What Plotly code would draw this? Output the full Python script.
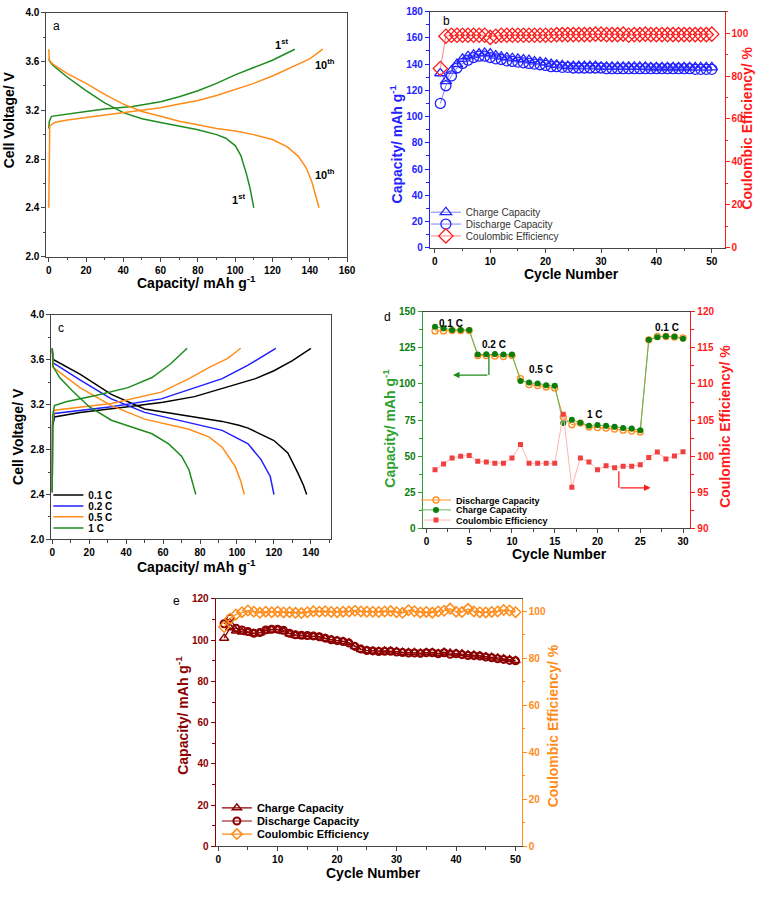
import plotly.graph_objects as go

W, H = 772, 900
FONT = "Liberation Sans, Arial, sans-serif"

# ---------------- Panel a data ----------------
a_1st_chg_cap = [0, 0.3, 1.5, 10, 20, 30, 45, 60, 70, 80, 90, 100, 110, 120, 132]
a_1st_chg_v = [3.05, 3.11, 3.15, 3.17, 3.19, 3.21, 3.23, 3.27, 3.31, 3.36, 3.42, 3.49, 3.55, 3.61, 3.70]
a_1st_dis_cap = [0, 0.5, 2, 10, 20, 30, 40, 50, 60, 70, 80, 90, 95, 100, 103, 106, 108, 110]
a_1st_dis_v = [3.62, 3.60, 3.57, 3.47, 3.36, 3.26, 3.18, 3.13, 3.10, 3.07, 3.04, 3.00, 2.97, 2.91, 2.83, 2.68, 2.56, 2.40]
a_10th_chg_cap = [0, 0.1, 0.5, 3, 10, 20, 30, 40, 50, 60, 70, 80, 90, 100, 110, 120, 130, 140, 147]
a_10th_chg_v = [2.40, 3.00, 3.07, 3.10, 3.12, 3.14, 3.16, 3.18, 3.20, 3.22, 3.25, 3.28, 3.32, 3.37, 3.42, 3.48, 3.55, 3.62, 3.70]
a_10th_dis_cap = [0, 0.3, 2, 10, 20, 30, 40, 50, 60, 70, 80, 90, 100, 110, 120, 128, 134, 138, 141, 143, 145]
a_10th_dis_v = [3.70, 3.61, 3.58, 3.50, 3.42, 3.33, 3.25, 3.19, 3.15, 3.11, 3.08, 3.05, 3.03, 3.00, 2.96, 2.90, 2.82, 2.73, 2.62, 2.52, 2.40]

# ---------------- Panel b data ----------------
b_cycles = list(range(1, 51))
b_charge = [133, 127, 135, 140, 144, 146, 147, 148, 148.5, 148, 146.5, 145.5, 145, 144.5, 144, 143.5, 143, 142,
            141.5, 141, 140, 139.5, 139, 138.5, 138.5, 138.5, 138.5, 138.5, 138.5, 138, 138, 138, 138, 138, 138,
            138, 138, 138, 137.5, 137.5, 137.5, 137.5, 137.5, 137.5, 137.5, 137.5, 137.5, 137.5, 137.5, 137.5]
b_discharge = [110, 123.5, 131, 137, 140.5, 143, 145, 146, 146, 145, 144, 143.5, 142.5, 142, 141.5, 141, 140.5,
               140, 139.5, 139, 138, 138, 137.5, 137.5, 137, 137, 137, 137, 137, 137, 136.5, 136.5, 136.5, 136.5,
               136.5, 136.5, 136.5, 136.5, 136.5, 136.5, 136.5, 136.5, 136.5, 136.5, 136.5, 136.5, 136, 136, 136, 136]
b_ce = [83.5, 98.5, 99, 99, 99, 99, 99, 99, 99, 98, 98.5, 99, 99, 99, 99, 99, 99, 99, 99, 99, 99, 99.3, 99.3,
        99.3, 99.3, 99.3, 99.3, 99.3, 99.5, 99.5, 99.3, 99.3, 99.3, 99.5, 99, 99.3, 99.3, 99.5, 99.3, 99.3, 99.3,
        99.3, 99.3, 99.3, 99.3, 99.3, 99.3, 99.3, 99.3, 99.5]

# ---------------- Panel c data ----------------
c_labels = ["0.1 C", "0.2 C", "0.5 C", "1 C"]
c_chg_cap = [
    [0, 0.2, 1.2, 15, 41, 60, 77, 92, 110, 120, 130, 140],
    [0, 0.2, 1.2, 32, 59, 74, 92, 106, 121],
    [0, 0.2, 1.2, 32, 59, 74, 85, 95, 102],
    [0, 0.2, 1.2, 7.5, 23.5, 41, 54, 64, 73],
]
c_chg_v = [
    [2.42, 3.00, 3.09, 3.13, 3.18, 3.22, 3.27, 3.34, 3.43, 3.50, 3.59, 3.70],
    [2.42, 3.02, 3.12, 3.18, 3.25, 3.33, 3.43, 3.55, 3.70],
    [2.42, 3.05, 3.15, 3.21, 3.31, 3.43, 3.53, 3.61, 3.70],
    [2.42, 3.10, 3.19, 3.225, 3.28, 3.35, 3.44, 3.56, 3.70],
]
c_dis_cap = [
    [0, 0.5, 15, 32, 50, 77, 92, 101, 106, 120, 127.5, 133, 136, 137.7],
    [0, 0.5, 15, 32, 50, 77, 92, 106, 113, 118, 120],
    [0, 0.5, 15, 32, 50, 74, 85, 92, 99, 102, 104],
    [0, 0.4, 4, 11, 20, 32, 43, 54, 63, 70, 74, 75.5, 77.7],
]
c_dis_v = [
    [3.70, 3.60, 3.47, 3.29, 3.16, 3.09, 3.05, 3.015, 2.99, 2.88, 2.77, 2.59, 2.48, 2.40],
    [3.70, 3.57, 3.42, 3.25, 3.13, 3.03, 2.97, 2.85, 2.71, 2.56, 2.40],
    [3.70, 3.53, 3.35, 3.19, 3.07, 2.98, 2.91, 2.82, 2.65, 2.52, 2.40],
    [3.70, 3.54, 3.44, 3.32, 3.18, 3.06, 3.00, 2.94, 2.85, 2.74, 2.62, 2.53, 2.40],
]
c_colors = ["#000000", "#1f1fff", "#ff8c1a", "#1e8c1e"]

# ---------------- Panel d data ----------------
d_cycles = list(range(1, 31))
d_discharge = [136.8, 136.8, 137, 137, 137, 119.7, 119.7, 119.4, 119, 119.7, 103.7, 99.6, 98.9, 98, 97.3,
               77, 71.8, 72.9, 70.2, 69.8, 69.5, 68.8, 68, 67.4, 66.8, 130.6, 133, 133, 132.6, 132]
d_charge = [139.7, 138.6, 137.5, 137.5, 137.5, 120.4, 120.6, 120.8, 120.5, 120.4, 102.1, 101, 100.3, 99.2, 98.7,
            72.9, 75.2, 73.2, 71.1, 71.6, 71.1, 70.4, 69.5, 69.1, 67.9, 130.6, 132.4, 133.1, 132.8, 131.3]
d_ce = [98.1, 98.9, 99.75, 99.98, 100.1, 99.3, 99.2, 99.0, 99.0, 99.75, 101.6, 99.0, 99.0, 99.0, 99.0,
        105.8, 95.7, 99.75, 99.2, 98.1, 98.66, 98.4, 98.6, 98.6, 98.8, 99.8, 100.57, 99.6, 100.0, 100.6]
d_rate_labels = ["0.1 C", "0.2 C", "0.5 C", "1 C", "0.1 C"]
d_rate_x = [2.9, 7.9, 13.4, 19.75, 28.1]
d_rate_y = [142, 127.6, 110.1, 79.1, 139]

# ---------------- Panel e data ----------------
e_cycles = list(range(1, 51))
e_charge = [101, 106, 104.5, 104, 103.8, 103.3, 103.5, 104.5, 105, 105, 104.2, 103, 102.3, 102, 101.8, 101.8,
            101.5, 100.8, 100.2, 99.8, 99.4, 98.8, 97, 95.5, 95, 94.8, 94.7, 94.8, 94.8, 94.5, 94.2, 94, 94,
            93.8, 94, 94.1, 93.6, 94.2, 93.8, 93.6, 93.4, 93, 92.8, 92.5, 92, 91.8, 91.4, 91, 90.6, 90.2]
e_discharge = [108, 110.6, 105.8, 105, 104.2, 103.4, 103.7, 105, 105.3, 105.3, 104.8, 103.4, 102.6, 102.4,
               102.3, 102.1, 101.7, 101, 100.2, 99.8, 99.4, 98.6, 97, 95.7, 95, 94.8, 94.5, 94.6, 94.6, 94.3,
               94, 93.8, 93.8, 93.6, 93.9, 93.9, 93.4, 93.9, 93.2, 93.4, 93, 92.6, 92.5, 92.3, 91.8, 91.5, 91,
               90.7, 90.2, 90]
e_ce = [93.3, 96.8, 98.6, 99.6, 100.3, 99.8, 99.3, 99.8, 99.6, 99.8, 99.5, 99.6, 99.3, 99.2, 99.6, 100, 99.8,
        100, 99.7, 99.6, 99.8, 99.9, 100.2, 99.9, 99.8, 99.8, 99.7, 99.9, 100.1, 99.6, 99.3, 100.4, 100, 99.5,
        99.7, 99.4, 99.9, 100.2, 101.1, 99.8, 99.7, 101, 99.9, 99.6, 99.5, 99.7, 99.9, 100.5, 100.3, 99.6]

# ---------------- colours ----------------
GREEN = "#1e8c1e"
ORANGE = "#ff8c1a"
BLUE = "#2222ff"
RED = "#ff1a1a"
DGREEN = "#0a7d0a"
LGREEN = "#2ea02e"
DRED = "#8b0000"
AXGRAY = "#444444"


def px(x):
    return x / W


def py(y):
    return 1 - y / H


def bold(size, color="#000000"):
    return dict(family=FONT, size=size, color=color, weight="bold")


def mk_axis(dom, rng, dtick, minor, color="#000000", linecolor=AXGRAY, tickformat=None, mirror=False,
            anchor=None, side=None, overlaying=None, tick0=0):
    ax = dict(range=rng, dtick=dtick, tick0=tick0, ticks="outside", ticklen=4, tickwidth=1,
              tickcolor=linecolor, showline=True, linecolor=linecolor, linewidth=1, mirror=mirror,
              showgrid=False, zeroline=False, tickfont=bold(10, color),
              minor=dict(dtick=minor, ticks="outside", ticklen=2.5, tickcolor=linecolor, showgrid=False))
    if dom is not None:
        ax["domain"] = dom
    if tickformat:
        ax["tickformat"] = tickformat
    if anchor:
        ax["anchor"] = anchor
    if side:
        ax["side"] = side
    if overlaying:
        ax["overlaying"] = overlaying
    return ax


fig = go.Figure()

# ---------- Panel a ----------
for cx, vy, col in [(a_1st_chg_cap, a_1st_chg_v, GREEN), (a_1st_dis_cap, a_1st_dis_v, GREEN),
                    (a_10th_chg_cap, a_10th_chg_v, ORANGE), (a_10th_dis_cap, a_10th_dis_v, ORANGE)]:
    fig.add_trace(go.Scatter(x=cx, y=vy, mode="lines", line=dict(color=col, width=1.5),
                             xaxis="x", yaxis="y", showlegend=False))

# ---------- Panel b ----------
fig.add_trace(go.Scatter(x=b_cycles, y=b_charge, name="Charge Capacity", mode="lines+markers",
                         line=dict(color="#8080ff", width=1),
                         marker=dict(symbol="triangle-up-open", size=10, color=BLUE, line=dict(width=1.3, color=BLUE)),
                         xaxis="x2", yaxis="y2", legend="legend"))
fig.add_trace(go.Scatter(x=b_cycles, y=b_discharge, name="Discharge Capacity", mode="lines+markers",
                         line=dict(color="#8080ff", width=1),
                         marker=dict(symbol="circle-open", size=10, color=BLUE, line=dict(width=1.3, color=BLUE)),
                         xaxis="x2", yaxis="y2", legend="legend2"))
fig.add_trace(go.Scatter(x=b_cycles, y=b_ce, name="Coulombic Efficiency", mode="lines+markers",
                         line=dict(color="#ff8080", width=1),
                         marker=dict(symbol="diamond-open", size=11, color=RED, line=dict(width=1.3, color=RED)),
                         xaxis="x2", yaxis="y3", legend="legend3"))

# ---------- Panel c ----------
for i, lab in enumerate(c_labels):
    lg = "legend%d" % (4 + i)
    fig.add_trace(go.Scatter(x=c_chg_cap[i], y=c_chg_v[i], mode="lines", name=lab, legendgroup=lab,
                             line=dict(color=c_colors[i], width=1.5), xaxis="x3", yaxis="y4",
                             legend=lg, showlegend=True))
    fig.add_trace(go.Scatter(x=c_dis_cap[i], y=c_dis_v[i], mode="lines", name=lab, legendgroup=lab,
                             line=dict(color=c_colors[i], width=1.5), xaxis="x3", yaxis="y4",
                             legend=lg, showlegend=False))

# ---------- Panel d ----------
fig.add_trace(go.Scatter(x=d_cycles, y=d_discharge, name="Discharge Capacity", mode="lines+markers",
                         line=dict(color=ORANGE, width=1),
                         marker=dict(symbol="circle-open", size=6, color=ORANGE, line=dict(width=1.3, color=ORANGE)),
                         xaxis="x4", yaxis="y5", legend="legend8"))
fig.add_trace(go.Scatter(x=d_cycles, y=d_charge, name="Charge Capacity", mode="lines+markers",
                         line=dict(color="#5cb85c", width=1),
                         marker=dict(symbol="circle", size=6, color=DGREEN),
                         xaxis="x4", yaxis="y5", legend="legend9"))
fig.add_trace(go.Scatter(x=d_cycles, y=d_ce, name="Coulombic Efficiency", mode="lines+markers",
                         line=dict(color="#ffb3b3", width=1),
                         marker=dict(symbol="square", size=5, color="#f04040"),
                         xaxis="x4", yaxis="y6", legend="legend10"))

# ---------- Panel e ----------
fig.add_trace(go.Scatter(x=e_cycles, y=e_charge, name="Charge Capacity", mode="lines+markers",
                         line=dict(color=DRED, width=1.2),
                         marker=dict(symbol="triangle-up-open", size=8, color=DRED, line=dict(width=1.5, color=DRED)),
                         xaxis="x5", yaxis="y7", legend="legend11"))
fig.add_trace(go.Scatter(x=e_cycles, y=e_discharge, name="Discharge Capacity", mode="lines+markers",
                         line=dict(color=DRED, width=1.2),
                         marker=dict(symbol="circle-open", size=7, color=DRED, line=dict(width=2, color=DRED)),
                         xaxis="x5", yaxis="y7", legend="legend12"))
fig.add_trace(go.Scatter(x=e_cycles, y=e_ce, name="Coulombic Efficiency", mode="lines+markers",
                         line=dict(color=ORANGE, width=1.2),
                         marker=dict(symbol="diamond-open", size=8, color=ORANGE, line=dict(width=1.5, color=ORANGE)),
                         xaxis="x5", yaxis="y8", legend="legend13"))

# ---------------- axes ----------------
lay = dict(
    width=W, height=H, margin=dict(l=0, r=0, t=0, b=0),
    paper_bgcolor="white", plot_bgcolor="white",
    font=dict(family=FONT, size=10, color="#000000"),
    # a
    xaxis=mk_axis([px(45), px(350)], [-1.3, 160], 20, 10, mirror=True, anchor="y"),
    yaxis=mk_axis([py(254), py(6.7)], [2.0, 4.0], 0.4, 0.2, tickformat=".1f", mirror=True, anchor="x", tick0=2.0),
    # b
    xaxis2=mk_axis([px(434), px(733)], [-0.9, 52.3], 10, 5, mirror=True, anchor="y2"),
    yaxis2=mk_axis([py(245), py(5.7)], [0, 180], 20, 10, color=BLUE, linecolor=BLUE, anchor="x2"),
    yaxis3=mk_axis(None, [0, 110], 20, 10, color=RED, linecolor=RED, anchor="x2", side="right", overlaying="y2"),
    # c
    xaxis3=mk_axis([px(50), px(334)], [-0.5, 151], 20, 10, mirror=True, anchor="y4"),
    yaxis4=mk_axis([py(540.7), py(312.7)], [2.0, 4.0], 0.4, 0.2, tickformat=".1f", mirror=True, anchor="x3", tick0=2.0),
    # d
    xaxis4=mk_axis([px(426.7), px(698.3)], [-0.45, 30.86], 5, 2.5, mirror=True, anchor="y5"),
    yaxis5=mk_axis([py(529.3), py(310)], [0, 150], 25, 12.5, color=DGREEN, linecolor=LGREEN, anchor="x4"),
    yaxis6=mk_axis(None, [90, 120], 5, 2.5, color=RED, linecolor=RED, anchor="x4", side="right", overlaying="y5", tick0=90),
    # e
    xaxis5=mk_axis([px(216.7), px(527.3)], [-0.43, 51.05], 10, 5, mirror=True, anchor="y7"),
    yaxis7=mk_axis([py(851.7), py(601)], [0, 120], 20, 10, color=DRED, linecolor=DRED, anchor="x5"),
    yaxis8=mk_axis(None, [0, 105.2], 20, 10, color=ORANGE, linecolor=ORANGE, anchor="x5", side="right", overlaying="y7"),
)


def one_legend(x, y, font):
    return dict(bgcolor="rgba(0,0,0,0)", borderwidth=0, xanchor="left", yanchor="middle",
                tracegroupgap=0, itemwidth=30, x=px(x), y=py(y), font=font)


reg10 = dict(family=FONT, size=10, color="#333333")
legend_pos = {
    "legend": (430, 209, reg10), "legend2": (430, 221, reg10), "legend3": (430, 233, reg10),
    "legend4": (47, 495.7, bold(10)), "legend5": (47, 506.7, bold(10)),
    "legend6": (47, 517.7, bold(10)), "legend7": (47, 529, bold(10)),
    "legend8": (420, 500.7, bold(9)), "legend9": (420, 510.7, bold(9)), "legend10": (420, 521, bold(9)),
    "legend11": (218, 812.7, bold(11)), "legend12": (218, 826, bold(11)), "legend13": (218, 839.3, bold(11)),
}
for key, (lx, ly, lf) in legend_pos.items():
    lay[key] = one_legend(lx, ly, lf)

fig.update_layout(**lay)

# ---------------- annotations ----------------
ann = []


def paper_text(txt, x, y, font, angle=0):
    ann.append(dict(text=txt, x=px(x), y=py(y), xref="paper", yref="paper", showarrow=False,
                    font=font, textangle=angle, xanchor="center", yanchor="middle"))


CAP = "Capacity/ mAh g<sup>-1</sup>"
# axis titles
paper_text("Cell Voltage/ V", 8, 115, bold(14), -90)
paper_text(CAP, 197, 280, bold(14))
paper_text(CAP, 400, 140, bold(14, BLUE), -90)
paper_text("Coulombic Efficiency/ %", 756, 124, bold(14, RED), -90)
paper_text("Cycle Number", 578, 272, bold(14))
paper_text("Cell Voltage/ V", 16, 436, bold(14), -90)
paper_text(CAP, 197, 568, bold(14))
paper_text(CAP, 393, 428, bold(14, LGREEN), -90)
paper_text("Coulombic Efficiency/ %", 734, 426, bold(14, RED), -90)
paper_text("Cycle Number", 566, 555, bold(14))
paper_text(CAP, 183, 719, bold(14, DRED), -90)
paper_text("Coulombic Efficiency/ %", 559, 730, bold(14, ORANGE), -90)
paper_text("Cycle Number", 377, 879, bold(14))

# panel letters
for letter, lx, ly in [("a", 55, 20), ("b", 451, 15), ("c", 60, 326), ("d", 391, 315), ("e", 177, 603)]:
    paper_text(letter, lx, ly, dict(family=FONT, size=12, color="#000000"))

# panel a cycle labels
for txt, x, y in [("1<sup>st</sup>", 125, 3.745), ("10<sup>th</sup>", 148, 3.58),
                  ("10<sup>th</sup>", 148, 2.68), ("1<sup>st</sup>", 102, 2.47)]:
    ann.append(dict(text=txt, x=x, y=y, xref="x", yref="y", showarrow=False, font=bold(11)))

# panel d rate labels
for txt, x, y in zip(d_rate_labels, d_rate_x, d_rate_y):
    ann.append(dict(text=txt, x=x, y=y, xref="x4", yref="y5", showarrow=False, font=bold(10)))

# panel d arrows (L-shaped guides to axes)
ann.append(dict(text="", x=3.1, y=106.2, ax=7.3, ay=106.2, xref="x4", yref="y5", axref="x4", ayref="y5",
                showarrow=True, arrowhead=2, arrowsize=1, arrowwidth=1.3, arrowcolor=GREEN))
ann.append(dict(text="", x=26.2, y=95.6, ax=22.5, ay=95.6, xref="x4", yref="y6", axref="x4", ayref="y6",
                showarrow=True, arrowhead=2, arrowsize=1, arrowwidth=1.3, arrowcolor=RED))
fig.update_layout(annotations=ann)

fig.add_shape(type="line", x0=7.3, x1=7.3, y0=119.9, y1=106.2, xref="x4", yref="y5",
              line=dict(color=GREEN, width=1.3))
fig.add_shape(type="line", x0=22.5, x1=22.5, y0=97.9, y1=95.6, xref="x4", yref="y6",
              line=dict(color=RED, width=1.3))

fig.write_html("out.html")
